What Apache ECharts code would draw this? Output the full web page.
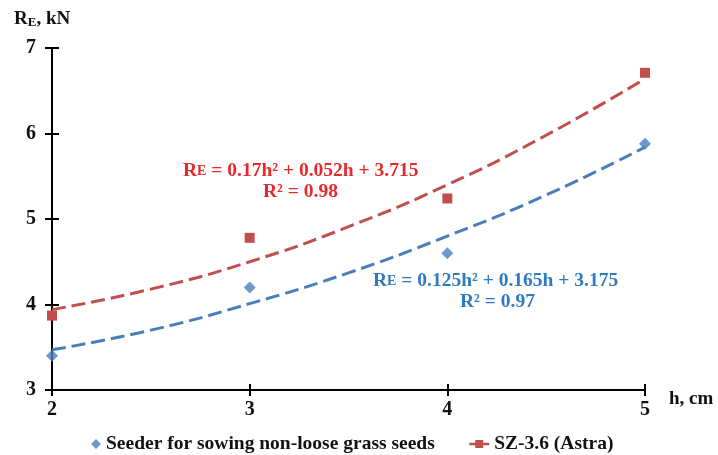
<!DOCTYPE html>
<html>
<head>
<meta charset="utf-8">
<script src="https://cdn.jsdelivr.net/npm/echarts@6/dist/echarts.min.js"></script>
<style>
html, body { margin: 0; padding: 0; background: #fff; }
#chart { width: 718px; height: 455px; }
</style>
</head>
<body>
<div id="chart"></div>
<script>
// depth h, cm
var hValues = [2, 3, 4, 5];
var seederData = [3.40, 4.20, 4.60, 5.88];
var astraData = [3.87, 4.78, 5.24, 6.71];
// trend lines
var trendH = [2, 2.5, 3, 3.5, 4, 4.5, 5];
var seederTrend = [3.47, 3.70, 4.01, 4.37, 4.80, 5.28, 5.84];
var astraTrend = [3.94, 4.18, 4.50, 4.91, 5.40, 5.98, 6.64];
var yTicks = [3, 4, 5, 6, 7];

var blue = '#4a7ebb';
var red = '#c0504d';
var eqRed = '#e8282b';
var eqBlue = '#2f7bc1';
var serif = '"Liberation Serif", "DejaVu Serif", serif';

function pairs(xs, ys) {
    var out = [];
    for (var i = 0; i < xs.length; i++) out.push([xs[i], ys[i]]);
    return out;
}

var myChart = echarts.init(document.getElementById('chart'));

var axisText = { color: '#111', fontFamily: serif, fontWeight: 'bold', fontSize: 20 };
var legendText = { color: '#111', fontFamily: serif, fontWeight: 'bold', fontSize: 19.5 };

var option = {
    backgroundColor: '#fff',
    animation: false,
    grid: { left: 52, right: 73, top: 48, bottom: 65 },
    xAxis: [{
        type: 'value', min: 2, max: 5, interval: 1,
        axisLine: { onZero: false, lineStyle: { color: '#000', width: 2 } },
        axisTick: { show: true, length: 6, lineStyle: { color: '#000', width: 2 } },
        axisLabel: Object.assign({ margin: 10 }, axisText),
        splitLine: { show: false }
    }, {
        type: 'value', min: 2, max: 5, interval: 1, position: 'bottom',
        axisLine: { show: false },
        axisTick: { show: true, inside: true, length: 6, lineStyle: { color: '#000', width: 2 } },
        axisLabel: { show: false },
        splitLine: { show: false }
    }],
    yAxis: [{
        type: 'value', min: 3, max: 7, interval: 1,
        axisLine: { onZero: false, lineStyle: { color: '#000', width: 2 } },
        axisTick: { show: true, length: 7, lineStyle: { color: '#000', width: 2 } },
        axisLabel: Object.assign({ margin: 16, formatter: function (v) { return yTicks.indexOf(v) >= 0 ? String(v) : ''; } }, axisText),
        splitLine: { show: false }
    }, {
        type: 'value', min: 3, max: 7, interval: 1, position: 'left',
        axisLine: { show: false },
        axisTick: { show: true, inside: true, length: 7, lineStyle: { color: '#000', width: 2 } },
        axisLabel: { show: false },
        splitLine: { show: false }
    }],
    legend: [{
        left: 86, top: 429,
        itemWidth: 10, itemHeight: 10,
        textStyle: legendText,
        data: [{ name: 'Seeder for sowing non-loose grass seeds', icon: 'diamond' }]
    }, {
        left: 463, top: 429,
        itemWidth: 20, itemHeight: 10,
        textStyle: legendText,
        data: [{ name: 'SZ-3.6 (Astra)', lineStyle: { width: 2.5, color: red, opacity: 1 } }]
    }],
    series: [{
        name: 'Seeder for sowing non-loose grass seeds',
        type: 'scatter',
        symbol: 'diamond',
        symbolSize: 12,
        itemStyle: { color: blue },
        data: pairs(hValues, seederData),
        z: 5
    }, {
        name: 'SZ-3.6 (Astra)',
        type: 'line',
        symbol: 'rect',
        symbolSize: 10,
        showSymbol: true,
        lineStyle: { width: 0, color: red },
        itemStyle: { color: red },
        data: pairs(hValues, astraData),
        z: 5
    }, {
        name: 'seederTrend',
        type: 'line',
        smooth: true,
        symbol: 'none',
        lineStyle: { color: blue, width: 3, type: [14, 6] },
        data: pairs(trendH, seederTrend),
        z: 3
    }, {
        name: 'astraTrend',
        type: 'line',
        smooth: true,
        symbol: 'none',
        lineStyle: { color: red, width: 3, type: [14, 6] },
        data: pairs(trendH, astraTrend),
        z: 3
    }],
    graphic: [{
        type: 'text', left: 14, top: 10,
        style: {
            text: '{r|R}{e|E}{r|, kN}',
            rich: {
                r: { fontFamily: serif, fontWeight: 'bold', fontSize: 19, fill: '#111' },
                e: { fontFamily: serif, fontWeight: 'bold', fontSize: 13, fill: '#111', verticalAlign: 'bottom' }
            }
        }
    }, {
        type: 'text', left: 669, top: 390,
        style: { text: 'h, cm', fontFamily: serif, fontWeight: 'bold', fontSize: 19, fill: '#111' }
    }, {
        type: 'text', left: 183, top: 161,
        style: {
            text: '{r|R}{e|E}{r| = 0.17h² + 0.052h + 3.715}',
            rich: {
                r: { fontFamily: serif, fontWeight: 'bold', fontSize: 19.5, fill: eqRed },
                e: { fontFamily: serif, fontWeight: 'bold', fontSize: 14, fill: eqRed }
            }
        }
    }, {
        type: 'text', left: 263, top: 182,
        style: { text: 'R² = 0.98', fontFamily: serif, fontWeight: 'bold', fontSize: 19.5, fill: eqRed }
    }, {
        type: 'text', left: 373, top: 271,
        style: {
            text: '{r|R}{e|E}{r| = 0.125h² + 0.165h + 3.175}',
            rich: {
                r: { fontFamily: serif, fontWeight: 'bold', fontSize: 19.5, fill: eqBlue },
                e: { fontFamily: serif, fontWeight: 'bold', fontSize: 14, fill: eqBlue }
            }
        }
    }, {
        type: 'text', left: 460, top: 292,
        style: { text: 'R² = 0.97', fontFamily: serif, fontWeight: 'bold', fontSize: 19.5, fill: eqBlue }
    }]
};

myChart.setOption(option);
</script>
</body>
</html>
